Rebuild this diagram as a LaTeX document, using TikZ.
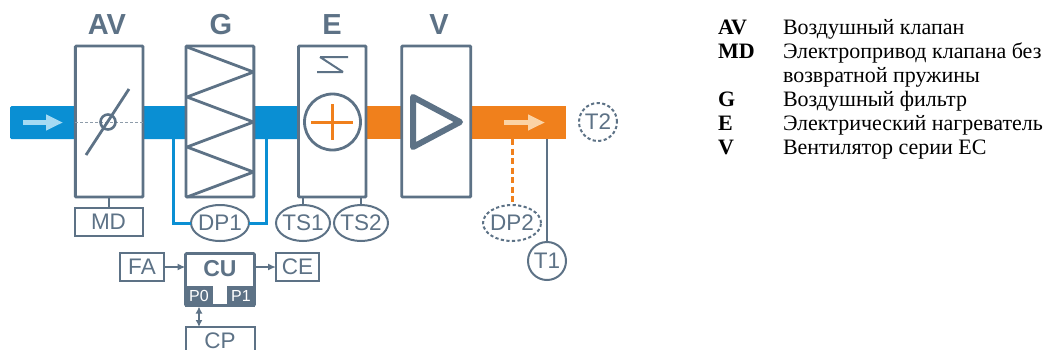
\documentclass[tikz,border=0pt]{standalone}
\usepackage{fontspec}
\setmainfont{Liberation Sans}
\newfontfamily\legendfont{Liberation Serif}
\usetikzlibrary{arrows.meta,shapes.geometric}
\definecolor{slate}{HTML}{5D7286}
\definecolor{ductblue}{HTML}{0A8FD3}
\definecolor{ductorange}{HTML}{F0801C}
\definecolor{lightblue}{HTML}{A5DAF3}
\definecolor{lightorange}{HTML}{FBD3A5}
\tikzset{
  x=1pt,y=-1pt,
  every node/.style={outer sep=0pt},
  unitbox/.style={draw=slate,line width=2.9pt,rounded corners=1pt,fill=white,inner sep=0pt},
  smallbox/.style={draw=slate,line width=2pt,inner sep=0pt,text=slate,font=\fontsize{22.5}{22.5}\selectfont},
  title/.style={text=slate,font=\bfseries\fontsize{29}{29}\selectfont,inner sep=0pt},
  sensor/.style={ellipse,draw=slate,line width=2pt,inner xsep=-2.5pt,inner ysep=-4pt,text=slate,fill=white,minimum height=36pt,font=\fontsize{22.5}{22.5}\selectfont},
  sensordash/.style={sensor,dash pattern=on 3.2pt off 2.4pt},
  port/.style={fill=slate,text=white,inner sep=0pt,font=\fontsize{16}{16}\selectfont},
  conn/.style={draw=slate,line width=2pt},
  flowarrow/.style={line width=5pt,-{Triangle[length=17pt,width=15pt]}},
  legkey/.style={anchor=base west,inner sep=0pt,font=\legendfont\bfseries\fontsize{22}{22}\selectfont},
  legtext/.style={anchor=base west,inner sep=0pt,font=\legendfont\fontsize{22}{22}\selectfont},
}
\newcommand{\boxat}[5]{\node[#1,minimum width=#4pt,minimum height=#5pt,anchor=north west] (#2) at #3 {};}
\begin{document}
\begin{tikzpicture}
\useasboundingbox (0,0) rectangle (1046,349);
\fill[white] (0,0) rectangle (1046,349);
% duct
\fill[ductblue,rounded corners=1.5pt] (10,106) rectangle (300,139);
\fill[ductorange] (360,106) rectangle (566,139);
% flow arrows
\coordinate (fa1) at (23,122.5); \coordinate (fa2) at (63,122.5);
\draw[flowarrow,draw=lightblue] (fa1) -- (fa2);
\coordinate (fo1) at (504,122.5); \coordinate (fo2) at (545,122.5);
\draw[flowarrow,draw=lightorange] (fo1) -- (fo2);
% titles
\node[title] (tAV) at (107,25) {AV};
\node[title] (tG) at (221,25) {G};
\node[title] (tE) at (332,25) {E};
\node[title] (tV) at (439,25) {V};
% bypass tubes (behind boxes)
\node[sensor] (DP1) at (220,223) [minimum width=58pt] {DP1};
\coordinate (bl) at (173,139); \coordinate (br) at (266,139);
\draw[ductblue,line width=3pt] (bl) |- (DP1.west);
\draw[ductblue,line width=3pt] (br) |- (DP1.east);
% units
\boxat{unitbox}{AV}{(75.3,46)}{67.7}{151}
\boxat{unitbox}{G}{(186,46)}{67.8}{151}
\boxat{unitbox}{E}{(298.5,46)}{67.5}{151}
\boxat{unitbox}{V}{(401.7,46)}{69}{151}
% damper
\draw[slate!70,line width=.7pt,densely dashed] (AV.west |- 0,122) -- (AV.east |- 0,122);
\node[circle,draw=slate,line width=2.6pt,minimum size=15pt,inner sep=0pt] (damper) at (108,122) {};
\coordinate (d1) at (86,155); \coordinate (d2) at (129,89);
\draw[slate,line width=2.8pt] (d1) -- (d2);
% filter
\draw[slate,line width=2.8pt,line join=bevel] (187,47) -- (253.5,72) -- (187,97) -- (253.5,122) -- (187,147) -- (253.5,172) -- (187,197);
% heater
\node[circle,draw=slate,line width=2.8pt,fill=white,minimum size=56pt,inner sep=0pt] (heat) at (332.5,122) {};
\draw[ductorange,line width=3pt] (311,122) -- (353,122) (332.5,104) -- (332.5,140);
\draw[slate,line width=2pt] (320,57) -- (348,57) (320,57) -- (343,72) (317,72) -- (343,72);
% fan
\draw[slate,line width=6pt,line join=round] (413,97) -- (460,122) -- (413,147) -- cycle;
% sensors and boxes under the units
\node[smallbox,minimum width=68pt,minimum height=28pt] (MD) at (108.5,222) {MD};
\draw[conn] (MD.north) -- (MD.north |- AV.south);
\node[sensor,minimum width=54pt] (TS1) at (303,223) {TS1};
\node[sensor,minimum width=54pt] (TS2) at (361,223) {TS2};
\coordinate (ts1t) at (303,198); \coordinate (ts2t) at (361,198);
\draw[conn] (ts1t) -- (TS1.north);
\draw[conn] (ts2t) -- (TS2.north);
\node[sensordash,minimum width=58pt] (DP2) at (512,223) {DP2};
\coordinate (dp2t) at (512,139);
\draw[ductorange,line width=3pt,dash pattern=on 6pt off 3.5pt] (dp2t) -- (DP2.north);
\node[sensor,circle,minimum size=38pt,minimum height=0pt] (T1) at (547,261) {T1};
\coordinate (t1t) at (547,139);
\draw[conn] (t1t) -- (T1.north);
\node[sensordash,circle,minimum size=38pt,minimum height=0pt] (T2) at (598,122) {T2};
% control unit
\node[smallbox,minimum width=44pt,minimum height=28pt] (FA) at (142,267) {FA};
\node[smallbox,minimum width=43pt,minimum height=28pt] (CE) at (297.5,267) {CE};
\node[draw=slate,line width=2.6pt,rounded corners=1pt,minimum width=69pt,minimum height=52pt,inner sep=0pt,anchor=north west] (CU) at (185.5,253.5) {};
\node[text=slate,font=\bfseries\fontsize{23}{23}\selectfont,inner sep=0pt] (CUt) at (220,269) {CU};
\node[port,minimum width=28pt,minimum height=21pt,anchor=south west] (P0) at (185,306.5) {P0};
\node[port,minimum width=28pt,minimum height=21pt,anchor=south east] (P1) at (255,306.5) {P1};
\node[smallbox,minimum width=69pt,minimum height=28pt,anchor=north west] (CP) at (185.5,327) {CP};
\draw[conn,-{Latex[length=8pt,width=7pt]}] (FA.east) -- (FA.east -| CU.west);
\draw[conn,-{Latex[length=8pt,width=7pt]}] (CE.west -| CU.east) -- (CE.west);
\draw[conn,{Latex[length=7pt,width=7pt]}-{Latex[length=7pt,width=7pt]}] (P0.south -| 199,0) -- (CP.north -| 199,0);
% legend
\node[legkey] (k1) at (718,34) {AV};
\node[legkey] (k2) at (718,58) {MD};
\node[legkey] (k4) at (718,106) {G};
\node[legkey] (k5) at (718,130) {E};
\node[legkey] (k6) at (718,154) {V};
\node[legtext] (l1) at (783,34) {Воздушный клапан};
\node[legtext] (l2) at (783,58) {Электропривод клапана без};
\node[legtext] (l3) at (783,82) {возвратной пружины};
\node[legtext] (l4) at (783,106) {Воздушный фильтр};
\node[legtext] (l5) at (783,130) {Электрический нагреватель};
\node[legtext] (l6) at (783,154) {Вентилятор серии ЕС};
\end{tikzpicture}
\end{document}
